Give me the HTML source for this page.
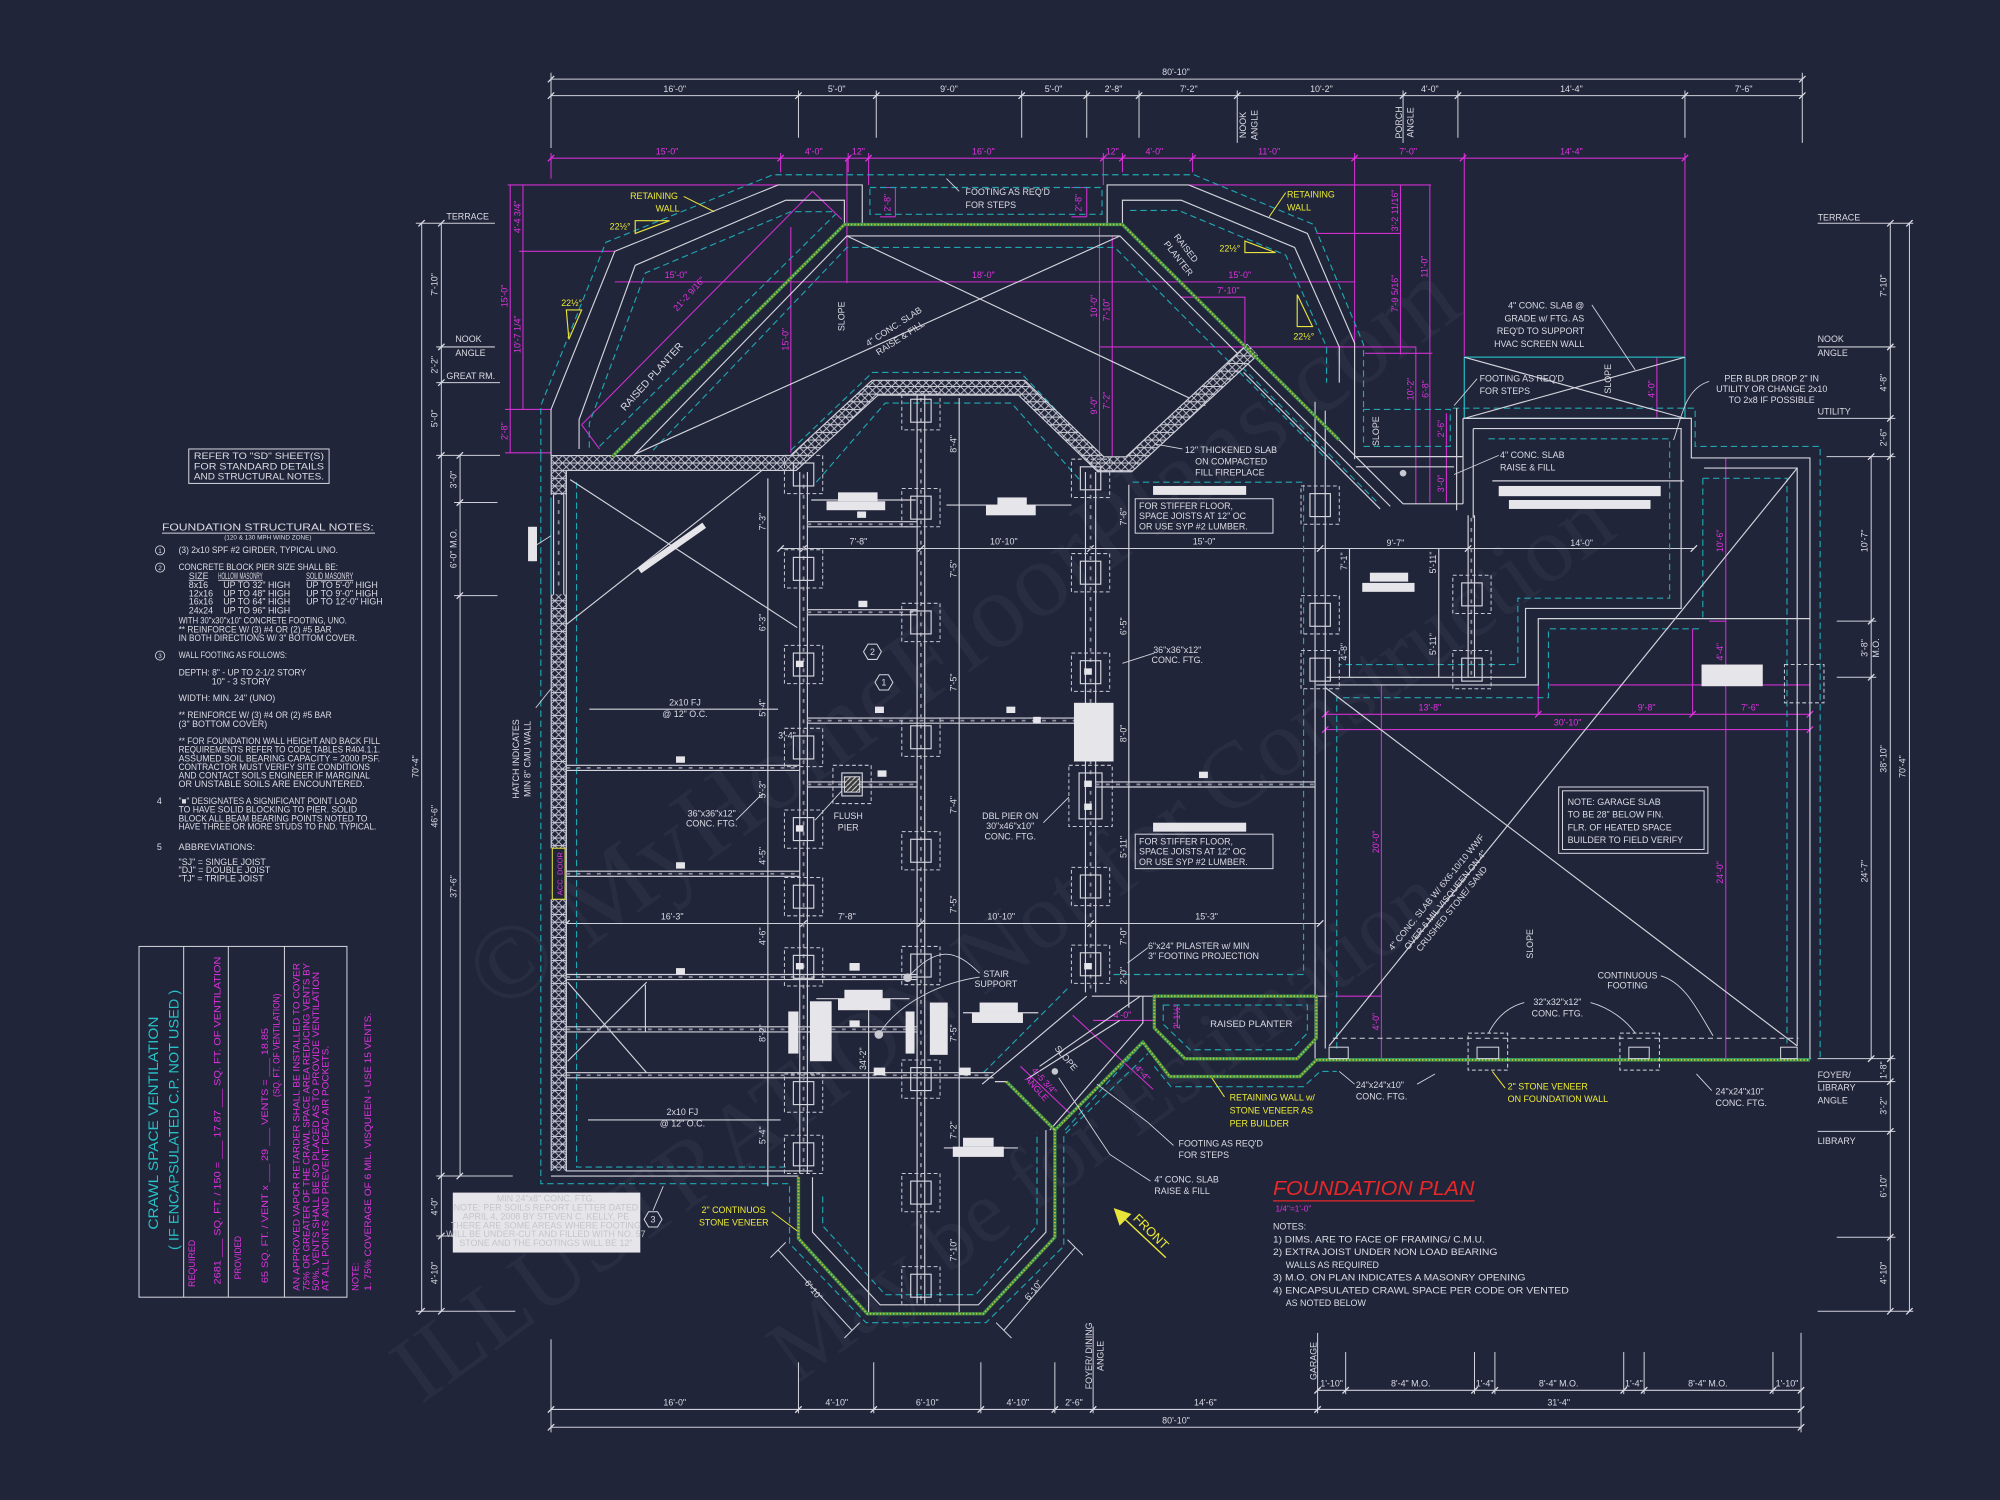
<!DOCTYPE html>
<html><head><meta charset="utf-8">
<style>
html,body{margin:0;padding:0;background:#21253a;}
svg{display:block}
text{font-family:"Liberation Sans Narrow","Liberation Sans",sans-serif;font-size:7px;}
.w{fill:#dcdce4}.m{fill:#e033e0}.y{fill:#ecec34}.c{fill:#27c2c6}.r{fill:#e82828}
.s{font-size:5.6px}.n{font-size:8.2px}
</style></head>
<body>
<svg width="2000" height="1500" viewBox="0 0 1568 1176" xmlns="http://www.w3.org/2000/svg">
<defs>
<pattern id="h" width="6" height="6" patternUnits="userSpaceOnUse"><rect width="6" height="6" fill="#21253a"/><path d="M0,0L6,6M6,0L0,6M0,3H6" stroke="#ceced8" stroke-width="0.7"/></pattern>
<pattern id="hz" width="4" height="4" patternUnits="userSpaceOnUse"><rect width="4" height="4" fill="#3a3a3a"/><path d="M0,4L4,0" stroke="#e0e0e0" stroke-width="0.8"/></pattern>
<g id="p"><rect x="-15" y="-15" width="30" height="30" fill="none" stroke="#c8c8d2" stroke-width="0.8" stroke-dasharray="3 2"/><rect x="-8" y="-9" width="16" height="18" fill="none" stroke="#d6d6de" stroke-width="0.9"/></g>
<g id="hx"><polygon points="-7,0 -3.5,-6 3.5,-6 7,0 3.5,6 -3.5,6" fill="#21253a" stroke="#d6d6de" stroke-width="0.8"/></g>
</defs>
<rect width="1568" height="1176" fill="#21253a"/>

<!-- watermark -->
<g fill="#a6abc4" opacity="0.06">
<text transform="translate(770,520) rotate(-36)" text-anchor="middle" style="font-size:84px;font-family:'Liberation Serif',serif">© MyHomeFloorPlans.com</text>
<text transform="translate(800,760) rotate(-36)" text-anchor="middle" style="font-size:74px;font-family:'Liberation Serif',serif">ILLUSTRATION Not for Construction</text>
<text transform="translate(880,900) rotate(-36)" text-anchor="middle" style="font-size:70px;font-family:'Liberation Serif',serif">May be for Estimation</text>
</g>

<!-- ======== DIMENSION LINES (white) ======== -->
<g stroke="#cfd0d8" stroke-width="0.8" fill="none">
<path d="M432,62H1413M432,75H1413M432,57V116M1413,57V112M626,71V108M687,71V108M801,71V108M852,71V108M893,71V108M970,71V112M1100,71V112M1143,71V108M1321,71V108"/>
<path d="M330.6,175V1028M346,175V1028M360.7,357V922M326,175H388M342,272H388M342,300H392M342,357H392M356,394H390M356,467H390M342,922H402M342,969H360M326,1028H404"/>
<path d="M1467,358V830M1482,175V1028M1497,175V1028M1425,175H1500M1425,272H1486M1425,328H1486M1432,358H1486M1440,487H1471M1440,531H1471M1425,830H1486M1425,848H1486M1425,887H1486M1440,970H1486M1425,1028H1500"/>
<path d="M1033,1090H1412M432,1105H1412M432,1119H1412M432,1050V1123M626,1068V1108M685,1068V1108M769,1068V1108M827,1068V1108M857,1040V1108M1033,1045V1108M1055,1060V1093M1156,1060V1093M1172,1060V1093M1273,1060V1093M1289,1060V1093M1390,1060V1093M1412,1045V1123"/>
<path d="M612,430H1328M444,724H1035"/>
<path d="M610,980L668,1043M604,986L616,974M662,1049L674,1037M787,1043L843,978M781,1037L793,1049M837,972L849,984"/>
</g>
<!-- ticks -->
<path stroke="#dcdce4" stroke-width="1" fill="none" d="M429.5,64.5l5,-5M1410.5,64.5l5,-5M429.5,77.5l5,-5M623.5,77.5l5,-5M684.5,77.5l5,-5M798.5,77.5l5,-5M849.5,77.5l5,-5M890.5,77.5l5,-5M967.5,77.5l5,-5M1097.5,77.5l5,-5M1140.5,77.5l5,-5M1318.5,77.5l5,-5M1410.5,77.5l5,-5
M328,177.5l5,-5M328,1030.5l5,-5M343.5,177.5l5,-5M343.5,274.5l5,-5M343.5,302.5l5,-5M343.5,359.5l5,-5M343.5,924.5l5,-5M343.5,971.5l5,-5M343.5,1030.5l5,-5M358,359.5l5,-5M358,396.5l5,-5M358,469.5l5,-5M358,924.5l5,-5
M1494.5,177.5l5,-5M1494.5,1030.5l5,-5M1479.5,177.5l5,-5M1479.5,274.5l5,-5M1479.5,330.5l5,-5M1479.5,360.5l5,-5M1479.5,832.5l5,-5M1479.5,850.5l5,-5M1479.5,889.5l5,-5M1479.5,972.5l5,-5M1479.5,1030.5l5,-5M1464.5,360.5l5,-5M1464.5,489.5l5,-5M1464.5,533.5l5,-5M1464.5,832.5l5,-5
M1030.5,1092.5l5,-5M1052.5,1092.5l5,-5M1153.5,1092.5l5,-5M1169.5,1092.5l5,-5M1270.5,1092.5l5,-5M1286.5,1092.5l5,-5M1387.5,1092.5l5,-5M1409.5,1092.5l5,-5M429.5,1107.5l5,-5M623.5,1107.5l5,-5M682.5,1107.5l5,-5M766.5,1107.5l5,-5M824.5,1107.5l5,-5M854.5,1107.5l5,-5M1030.5,1107.5l5,-5M1409.5,1107.5l5,-5M429.5,1121.5l5,-5M1409.5,1121.5l5,-5
M609.5,432.5l5,-5M627.5,432.5l5,-5M719.5,432.5l5,-5M852.5,432.5l5,-5M1032.5,432.5l5,-5M1148.5,432.5l5,-5M1325.5,432.5l5,-5M441.5,726.5l5,-5M627.5,726.5l5,-5M719.5,726.5l5,-5M852.5,726.5l5,-5M1032.5,726.5l5,-5"/>

<!-- ======== MAGENTA DIMS ======== -->
<g stroke="#cf2fcf" stroke-width="0.85" fill="none">
<path d="M432,124H1321M432,120V140M612,120V135M665,120V135M681,120V145M865,120V145M880,120V135M935,120V135M1062,120V272M1148,120V279M1321,120V279"/>
<path d="M400,145V355M410,145V321M398,145H612M407,197H482M396,321H432M396,355H432"/>
<path d="M482,221H1062M620,178V355M664,124V222M862,178V360M872,185V360M925,233H976V272M862,272H1110"/>
<path d="M456,333L637,150M456,333L470,352M637,150L660,172"/>
<path d="M932,145H1122M1032,183H1098M1070,277H1123M1098,145V278M1121,145V394M1110,272V395M1134,324V394"/>
<path d="M690,147H702V170M690,170H702M840,147H852V170M840,170H852"/>
<path d="M1299,280V328"/>
<path d="M1083,537V830M1353,359V830M1039,560H1419M1039,572H1419M1206,537V560M1327,493V560M1214,537H1419M1340,487H1353M1047,781H1083"/>
<path d="M857,800H904M923,788V806M841,796L904,854M800,836L839,873"/>
</g>
<path stroke="#e033e0" stroke-width="1" fill="none" d="M429.5,126.5l5,-5M609.5,126.5l5,-5M662.5,126.5l5,-5M678.5,126.5l5,-5M862.5,126.5l5,-5M877.5,126.5l5,-5M932.5,126.5l5,-5M1059.5,126.5l5,-5M1144.5,126.5l5,-5M1318.5,126.5l5,-5M1036.5,562.5l5,-5M1203.5,562.5l5,-5M1324.5,562.5l5,-5M1416.5,562.5l5,-5M1036.5,574.5l5,-5M1416.5,574.5l5,-5"/>

<!-- ======== CYAN DASHED ======== -->
<g stroke="#1fa6b0" stroke-width="0.9" fill="none" stroke-dasharray="5 3">
<path d="M424,357V318L475,190L606,137H936L1030,176L1069,270V321"/>
<path d="M424,357V928H619V975L679,1037H773L834,977V890L900,826"/>
<path d="M682,147H864V168H682Z"/>
<path d="M462,351V332L506,214L620,166H654"/>
<path d="M470,350L655,168"/>
<path d="M512,353L664,194H874L1040,360"/>
<path d="M886,165H924L1008,200L1040,272V300"/>
<path d="M620,353L684,292H800L858,353"/>
<path d="M452,378V915H616M640,378L694,316H793L848,378"/>
<path d="M645,938V961L694,1015H765L813,961V888"/>
<path d="M888,378H1022V764H870"/>
<path d="M1139,320H1329V350H1427V830"/>
<path d="M1069,321H1137V350H1069Z"/>
<path d="M1167,344H1309V469H1190V521H1050"/>
<path d="M1335,375H1401V820M1335,375V485"/>
<path d="M1048,822V547H1214V493H1335"/>
<path d="M912,788H1025V810L1012,823H933L912,803Z"/>
<path d="M968,282L1080,394M771,841L838,774M835,886L896,818M905,836L918,852H1022L1035,840H1048"/>
</g>
<g stroke="#22b4bc" stroke-width="1" fill="none">
<rect x="1148" y="280" width="173" height="48"/>
<path d="M1033,830H1420M432,390V466"/>
</g>

<!-- ======== WHITE STRUCTURE LINES ======== -->
<g stroke="#d4d4dc" stroke-width="0.9" fill="none">
<path d="M432,357V321L482,197L610,145H676V175"/>
<path d="M454,352V329L498,208L616,157H662V176"/>
<path d="M496,358L664,185H878L1090,397"/>
<path d="M868,176V145H932L1025,183L1062,269V360"/>
<path d="M880,176V157H926L1015,194L1050,272V300"/>
<path d="M664,185L945,318M878,185L498,356"/>
<path d="M1050,345L1100,395H1147M975,292L1082,399M1063,358H1147M1063,366H1140M1142,320V400"/>
<path d="M1148,280L1321,328M1148,328L1321,280"/>
<path d="M1147,328V395M1147,328H1326V359H1419V830M1155,336V406M1155,336H1318V477H1196V531H1040M1336,367H1409V820M1032,537H1206V485H1419"/>
<path d="M1031,315V830M1039,322V822M1039,539L1409,820M1042,820L1409,367"/>
<path d="M856,781H1040"/>
<path d="M444,369V918H637M432,922H626"/>
<path d="M637,923V966L690,1023H767L820,966V886"/>
<path d="M852,781L770,850M896,781V802L823,886M780,848H789"/>
<path d="M815,836L894,781M805,846L878,800"/>
<path d="M447,376L625,492M441,492L606,362M445,770L507,841M507,770L445,832M506,772V809"/>
<!-- girders -->
<path d="M627,370V920M633,370V920M719,310V1022M725,310V1022M851,370V778M859,370V778M1151,404V531M1156,404V531"/>
<path d="M602,375V930M681,780V1030M752,312V1030M885,380V790M1058,430V531M1128,430V531"/>
<!-- joists -->
<path d="M633,409H719M633,413H719M633,478H719M633,482H719M633,563H851M633,567H851M444,600H627M444,604H627M633,613H719M633,617H719M859,613H1031M859,617H1031M444,683H627M444,687H627M444,764H719M444,768H719M444,805H719M444,809H719M444,841H779M444,845H779"/>
<path d="M434,388V466M442,388V466"/>
<!-- arrows -->
<path d="M462,556H610M461,878H612M640,783H713M755,794H814M636,392H718M742,396H840M1170,377H1320M740,900H798"/>
</g>
<g stroke="#8e8e9c" stroke-width="1.4" fill="none" stroke-dasharray="3 5">
<path d="M630,372V918M722,312V1020M855,372V776M1153.5,406V529M438,392V462"/>
<path d="M633,411H719M633,480H719M633,565H851M444,602H627M633,615H719M859,615H1031M444,685H627M444,766H719M444,807H719M444,843H779"/>
</g>
<path stroke="#d4d4dc" stroke-width="0.8" fill="none" stroke-dasharray="4 3" d="M1045,814H1410"/>

<!-- ======== HATCHED CMU WALL ======== -->
<g fill="none" stroke-linejoin="miter">
<path d="M438,918V705M438,665V466M438,388V363H622L686,304H801L863,364H885L982,274" stroke="#cfd0d8" stroke-width="12.6"/>
<path d="M438,918V705M438,665V466M438,388V363H622L686,304H801L863,364H885L982,274" stroke="url(#h)" stroke-width="10.8"/>
</g>
<!-- yellow/green stone veneer hatch -->
<g fill="none" stroke-linejoin="miter">
<path d="M480,358L662,176H880L1050,345M626,923V971L680,1030H771L827,970V886L896,817L917,844H1019L1032,831H1419M789,848L827,886M905,781H1032V814L1017,830H929L905,806Z" stroke="#3c8f48" stroke-width="2.6"/>
<path d="M480,358L662,176H880L1050,345M626,923V971L680,1030H771L827,970V886L896,817L917,844H1019L1032,831H1419M789,848L827,886M905,781H1032V814L1017,830H929L905,806Z" stroke="#c9c83a" stroke-width="1.4" stroke-dasharray="1 1.6"/>
</g>

<!-- ======== PIERS ======== -->
<g>
<use href="#p" x="630" y="372"/><use href="#p" x="630" y="446"/><use href="#p" x="630" y="521"/><use href="#p" x="630" y="586"/><use href="#p" x="630" y="650"/><use href="#p" x="630" y="703"/><use href="#p" x="630" y="758"/><use href="#p" x="630" y="857"/><use href="#p" x="630" y="905"/>
<use href="#p" x="722" y="322"/><use href="#p" x="722" y="398"/><use href="#p" x="722" y="488"/><use href="#p" x="722" y="578"/><use href="#p" x="722" y="667"/><use href="#p" x="722" y="757"/><use href="#p" x="722" y="846"/><use href="#p" x="722" y="935"/><use href="#p" x="722" y="1008"/>
<use href="#p" x="855" y="375"/><use href="#p" x="855" y="449"/><use href="#p" x="855" y="527"/><use href="#p" x="855" y="695"/><use href="#p" x="855" y="756"/>
<use href="#p" x="1035" y="396"/><use href="#p" x="1035" y="482"/><use href="#p" x="1154" y="466"/><use href="#p" x="1035" y="525"/><use href="#p" x="1154" y="525"/><use href="#p" x="668" y="615"/>
</g>
<rect x="838" y="600" width="34" height="48" fill="none" stroke="#c8c8d2" stroke-width="0.8" stroke-dasharray="3 2"/>
<rect x="846" y="606" width="18" height="36" fill="none" stroke="#d6d6de" stroke-width="0.9"/>
<rect x="662" y="609" width="12" height="12" fill="url(#hz)" stroke="#d6d6de" stroke-width="0.8"/>
<rect x="1399" y="521" width="31" height="30" fill="none" stroke="#c8c8d2" stroke-width="0.8" stroke-dasharray="3 2"/>
<g fill="none" stroke="#d6d6de" stroke-width="0.8">
<rect x="1151" y="810" width="31" height="29" stroke-dasharray="3 2"/><rect x="1158" y="821" width="17" height="9"/>
<rect x="1270" y="810" width="31" height="29" stroke-dasharray="3 2"/><rect x="1277" y="821" width="16" height="9"/>
<rect x="1042" y="821" width="15" height="9"/><rect x="1396" y="821" width="13" height="9"/>
</g>

<!-- ======== WHITE LABEL BOXES ======== -->
<g fill="#e6e6ea">
<rect x="657" y="386" width="31" height="7"/><rect x="648" y="393" width="46" height="7"/>
<rect x="782" y="390" width="23" height="6"/><rect x="773" y="396" width="39" height="8"/>
<rect x="904" y="381" width="73" height="7"/><rect x="904" y="645" width="73" height="7"/>
<rect x="842" y="551" width="31" height="46"/>
<rect x="496" y="427" width="62" height="5" transform="rotate(-35 527 430)"/>
<rect x="1175" y="381" width="127" height="8"/><rect x="1183" y="392" width="111" height="7"/>
<rect x="1074" y="449" width="30" height="7"/><rect x="1068" y="457" width="41" height="7"/>
<rect x="1334" y="521" width="48" height="17"/>
<rect x="414" y="413" width="7" height="27"/>
<rect x="662" y="776" width="30" height="7"/><rect x="657" y="783" width="41" height="9"/>
<rect x="618" y="793" width="8" height="33"/><rect x="635" y="785" width="17" height="47"/>
<rect x="710" y="793" width="7" height="33"/><rect x="729" y="786" width="14" height="41"/>
<rect x="768" y="786" width="30" height="8"/><rect x="762" y="794" width="40" height="8"/>
<rect x="755" y="892" width="24" height="7"/><rect x="747" y="899" width="40" height="8"/>
<rect x="355" y="935" width="147" height="47"/>
<!-- small squares -->
<rect x="672" y="401" width="7" height="5"/><rect x="673" y="471" width="7" height="5"/><rect x="624" y="518" width="6" height="5"/>
<rect x="686" y="554" width="7" height="5"/><rect x="789" y="554" width="7" height="5"/><rect x="810" y="562" width="6" height="5"/>
<rect x="530" y="593" width="7" height="5"/><rect x="688" y="604" width="7" height="5"/><rect x="940" y="605" width="7" height="5"/>
<rect x="624" y="647" width="6" height="5"/><rect x="850" y="524" width="6" height="5"/><rect x="850" y="612" width="6" height="5"/><rect x="850" y="630" width="6" height="5"/>
<rect x="530" y="676" width="7" height="5"/><rect x="624" y="755" width="6" height="5"/><rect x="666" y="755" width="8" height="6"/><rect x="530" y="759" width="7" height="5"/>
<rect x="666" y="800" width="8" height="5"/><rect x="685" y="837" width="9" height="6"/><rect x="752" y="837" width="9" height="6"/><rect x="850" y="755" width="6" height="5"/>
</g>
<g fill="#c4c4cc" style="font-size:4.6px" text-anchor="middle">
<text x="428" y="942">MIN 24&quot;x8&quot; CONC. FTG.</text>
<text x="428" y="949">NOTE: PER SOILS REPORT LETTER DATED</text>
<text x="428" y="956">APRIL 4, 2008 BY STEVEN C. KELLY, PE</text>
<text x="428" y="963">THERE ARE SOME AREAS WHERE FOOTING</text>
<text x="428" y="970">WILL BE UNDER-CUT AND FILLED WITH NO. 57</text>
<text x="428" y="977">STONE AND THE FOOTINGS WILL BE 12&quot;</text>
</g>
<circle cx="711.6" cy="766.5" r="3.4" fill="#c8c8d0"/><circle cx="689" cy="811" r="3.4" fill="#c8c8d0"/>
<circle cx="827" cy="840" r="2.6" fill="#c8c8d0"/><circle cx="1100" cy="371" r="2.6" fill="#c8c8d0"/>

<!-- leaders -->
<g stroke="#d4d4dc" stroke-width="0.7" fill="none">
<path d="M768,763C750,745 735,740 711.6,766.5M768,766C740,770 705,785 689,811"/>
<path d="M742,140L752,150M927,352L905,348M1248,239L1282,290M1158,297L1140,318M1340,299C1320,305 1318,330 1312,345M1175,357L1140,372"/>
<path d="M1302,765C1320,770 1330,790 1343,812M1195,786C1180,790 1172,800 1167,810M1247,786C1262,790 1275,800 1282,810"/>
<path d="M1111,850L1125,842M1342,855L1330,842M1062,850L1050,840"/>
<path d="M920,898L900,880L860,850M902,926L870,905L830,845"/>
<path d="M420,555L432,540M421,427L432,420M512,949L520,930M577,643L598,622M639,643L660,620M818,645L838,625M905,512L880,520M900,743L884,755"/>
</g>
<g stroke="#e8e43a" stroke-width="0.8" fill="none">
<path d="M536,154L560,166M1008,151L995,170M605,950L625,965M960,860L950,845M1180,853L1170,840"/>
</g>

<!-- yellow angle triangles -->
<g stroke="#e8e43a" stroke-width="0.9" fill="none">
<polygon points="498,183 525,173 498,173"/>
<polygon points="444,243 456,243 446,266"/>
<polygon points="976,189 1000,198 976,198"/>
<polygon points="1017,231 1017,256 1029,256"/>
</g>
<!-- front arrow -->
<g stroke="#e8e43a" stroke-width="1.1" fill="#e8e43a">
<path d="M914,986L880,954" fill="none"/><polygon points="874,948 886,952 878,960"/>
</g>
<!-- acc door -->
<rect x="433" y="665" width="10" height="40" fill="#21253a" stroke="#e8e43a" stroke-width="0.8"/>
<text transform="translate(441,685) rotate(-90)" text-anchor="middle" class="m" style="font-size:6px">ACC. DOOR</text>

<!-- hex tags -->
<use href="#hx" x="684" y="511"/><use href="#hx" x="693" y="535"/><use href="#hx" x="512" y="956"/>
<g class="w" text-anchor="middle" style="font-size:6.5px"><text x="684" y="513.5">2</text><text x="693" y="537.5">1</text><text x="512" y="958.5">3</text></g>

<!-- boxes -->
<g fill="none" stroke="#d4d4dc" stroke-width="0.8">
<rect x="148" y="352" width="110" height="27"/>
<rect x="890" y="391" width="108" height="27"/>
<rect x="890" y="654" width="108" height="27"/>
<rect x="1222" y="617" width="117" height="52"/><rect x="1225" y="620" width="111" height="46"/>
<rect x="109" y="742" width="163" height="275"/>
<path d="M144,742V1017M179,742V1017M223,742V1017"/>
<path d="M127,418H294"/>
<path d="M998,941.5H1156" stroke="#e82828" stroke-width="1"/>
</g>

<!-- ======== TEXT: WHITE ======== -->
<g class="w" text-anchor="middle" style="font-size:7.5px">
<text x="922" y="59">80'-10&quot;</text>
<text x="529" y="72">16'-0&quot;</text><text x="656" y="72">5'-0&quot;</text><text x="744" y="72">9'-0&quot;</text><text x="826" y="72">5'-0&quot;</text><text x="873" y="72">2'-8&quot;</text><text x="932" y="72">7'-2&quot;</text><text x="1036" y="72">10'-2&quot;</text><text x="1121" y="72">4'-0&quot;</text><text x="1232" y="72">14'-4&quot;</text><text x="1367" y="72">7'-6&quot;</text>
<text x="529" y="1102">16'-0&quot;</text><text x="656" y="1102">4'-10&quot;</text><text x="727" y="1102">6'-10&quot;</text><text x="798" y="1102">4'-10&quot;</text><text x="842" y="1102">2'-6&quot;</text><text x="945" y="1102">14'-6&quot;</text><text x="1222" y="1102">31'-4&quot;</text>
<text x="922" y="1116">80'-10&quot;</text>
<text x="1044" y="1087">1'-10&quot;</text><text x="1106" y="1087">8'-4&quot; M.O.</text><text x="1164" y="1087">1'-4&quot;</text><text x="1222" y="1087">8'-4&quot; M.O.</text><text x="1281" y="1087">1'-4&quot;</text><text x="1339" y="1087">8'-4&quot; M.O.</text><text x="1401" y="1087">1'-10&quot;</text>
<text x="673" y="427">7'-8&quot;</text><text x="787" y="427">10'-10&quot;</text><text x="944" y="427">15'-0&quot;</text><text x="1094" y="428">9'-7&quot;</text><text x="1240" y="428">14'-0&quot;</text>
<text x="527" y="721">16'-3&quot;</text><text x="664" y="721">7'-8&quot;</text><text x="785" y="721">10'-10&quot;</text><text x="946" y="721">15'-3&quot;</text>
<text x="617" y="579">3'-4&quot;</text>
</g>
<!-- rotated white dims -->
<g class="w" text-anchor="middle" style="font-size:7.5px">
<text transform="translate(343,223) rotate(-90)">7'-10&quot;</text>
<text transform="translate(343,286) rotate(-90)">2'-2&quot;</text>
<text transform="translate(343,328) rotate(-90)">5'-0&quot;</text>
<text transform="translate(358,376) rotate(-90)">3'-0&quot;</text>
<text transform="translate(358,430) rotate(-90)">6'-0&quot; M.O.</text>
<text transform="translate(328,601) rotate(-90)">70'-4&quot;</text>
<text transform="translate(343,640) rotate(-90)">46'-6&quot;</text>
<text transform="translate(358,695) rotate(-90)">37'-6&quot;</text>
<text transform="translate(343,946) rotate(-90)">4'-0&quot;</text>
<text transform="translate(343,998) rotate(-90)">4'-10&quot;</text>
<text transform="translate(1479,224) rotate(-90)">7'-10&quot;</text>
<text transform="translate(1479,300) rotate(-90)">4'-8&quot;</text>
<text transform="translate(1479,343) rotate(-90)">2'-6&quot;</text>
<text transform="translate(1464,424) rotate(-90)">10'-7&quot;</text>
<text transform="translate(1464,508) rotate(-90)">3'-8&quot;</text>
<text transform="translate(1473,508) rotate(-90)">M.O.</text>
<text transform="translate(1479,595) rotate(-90)">38'-10&quot;</text>
<text transform="translate(1494,601) rotate(-90)">70'-4&quot;</text>
<text transform="translate(1464,683) rotate(-90)">24'-7&quot;</text>
<text transform="translate(1479,839) rotate(-90)">1'-8&quot;</text>
<text transform="translate(1479,867) rotate(-90)">3'-2&quot;</text>
<text transform="translate(1479,930) rotate(-90)">6'-10&quot;</text>
<text transform="translate(1479,998) rotate(-90)">4'-10&quot;</text>
<text transform="translate(600,409) rotate(-90)">7'-3&quot;</text>
<text transform="translate(600,488) rotate(-90)">6'-3&quot;</text>
<text transform="translate(600,555) rotate(-90)">5'-4&quot;</text>
<text transform="translate(600,619) rotate(-90)">5'-3&quot;</text>
<text transform="translate(600,671) rotate(-90)">4'-5&quot;</text>
<text transform="translate(600,734) rotate(-90)">4'-6&quot;</text>
<text transform="translate(600,810) rotate(-90)">8'-2&quot;</text>
<text transform="translate(600,890) rotate(-90)">5'-4&quot;</text>
<text transform="translate(750,348) rotate(-90)">8'-4&quot;</text>
<text transform="translate(750,446) rotate(-90)">7'-5&quot;</text>
<text transform="translate(750,535) rotate(-90)">7'-5&quot;</text>
<text transform="translate(750,631) rotate(-90)">7'-4&quot;</text>
<text transform="translate(750,709) rotate(-90)">7'-5&quot;</text>
<text transform="translate(750,810) rotate(-90)">7'-5&quot;</text>
<text transform="translate(750,886) rotate(-90)">7'-2&quot;</text>
<text transform="translate(750,980) rotate(-90)">7'-10&quot;</text>
<text transform="translate(679,830) rotate(-90)">34'-2&quot;</text>
<text transform="translate(883,405) rotate(-90)">7'-6&quot;</text>
<text transform="translate(883,491) rotate(-90)">6'-5&quot;</text>
<text transform="translate(883,575) rotate(-90)">8'-0&quot;</text>
<text transform="translate(883,664) rotate(-90)">5'-11&quot;</text>
<text transform="translate(883,734) rotate(-90)">7'-0&quot;</text>
<text transform="translate(883,765) rotate(-90)">2'-0&quot;</text>
<text transform="translate(1056,440) rotate(-90)">7'-1&quot;</text>
<text transform="translate(1126,441) rotate(-90)">5'-11&quot;</text>
<text transform="translate(1126,505) rotate(-90)">5'-11&quot;</text>
<text transform="translate(1056,511) rotate(-90)">4'-8&quot;</text>
<text transform="translate(636,1013) rotate(52)">6'-10&quot;</text>
<text transform="translate(812,1013) rotate(-52)">6'-10&quot;</text>
</g>
<!-- white labels -->
<g class="w" style="font-size:7px">
<text x="350" y="172">TERRACE</text>
<text x="357" y="268">NOOK</text><text x="357" y="279">ANGLE</text>
<text x="350" y="297">GREAT RM.</text>
<text x="1425" y="173">TERRACE</text>
<text x="1425" y="268">NOOK</text><text x="1425" y="279">ANGLE</text>
<text x="1425" y="325">UTILITY</text>
<text x="1425" y="845">FOYER/</text><text x="1425" y="855">LIBRARY</text><text x="1425" y="865">ANGLE</text>
<text x="1425" y="897">LIBRARY</text>
<text transform="translate(977,98) rotate(-90)" text-anchor="middle">NOOK</text>
<text transform="translate(986,98) rotate(-90)" text-anchor="middle">ANGLE</text>
<text transform="translate(1099,96) rotate(-90)" text-anchor="middle">PORCH</text>
<text transform="translate(1108,96) rotate(-90)" text-anchor="middle">ANGLE</text>
<text transform="translate(856,1063) rotate(-90)" text-anchor="middle">FOYER/ DINING</text>
<text transform="translate(865,1063) rotate(-90)" text-anchor="middle">ANGLE</text>
<text transform="translate(1032,1067) rotate(-90)" text-anchor="middle">GARAGE</text>
<text x="757" y="153">FOOTING AS REQ'D</text><text x="757" y="163">FOR STEPS</text>
<text transform="translate(513,297) rotate(-48)" text-anchor="middle" style="font-size:8px">RAISED PLANTER</text>
<text transform="translate(928,196) rotate(52)" text-anchor="middle" style="font-size:7px">RAISED</text>
<text transform="translate(922,204) rotate(52)" text-anchor="middle" style="font-size:7px">PLANTER</text>
<text transform="translate(702,258) rotate(-33)" text-anchor="middle">4&quot; CONC. SLAB</text>
<text transform="translate(707,267) rotate(-33)" text-anchor="middle">RAISE &amp; FILL</text>
<text transform="translate(662,248) rotate(-90)" text-anchor="middle">SLOPE</text>
<text transform="translate(1081,338) rotate(-90)" text-anchor="middle">SLOPE</text>
<text transform="translate(1263,297) rotate(-90)" text-anchor="middle">SLOPE</text>
<text transform="translate(1202,740) rotate(-90)" text-anchor="middle">SLOPE</text>
<text transform="translate(834,831) rotate(50)" text-anchor="middle">SLOPE</text>
<text x="1242" y="242" text-anchor="end">4&quot; CONC. SLAB @</text>
<text x="1242" y="252" text-anchor="end">GRADE w/ FTG. AS</text>
<text x="1242" y="262" text-anchor="end">REQ'D TO SUPPORT</text>
<text x="1242" y="272" text-anchor="end">HVAC SCREEN WALL</text>
<text x="1160" y="299">FOOTING AS REQ'D</text><text x="1160" y="309">FOR STEPS</text>
<text x="1389" y="299" text-anchor="middle">PER BLDR DROP 2&quot; IN</text>
<text x="1389" y="307.5" text-anchor="middle">UTILITY OR CHANGE 2x10</text>
<text x="1389" y="316" text-anchor="middle">TO 2x8 IF POSSIBLE</text>
<text x="1176" y="359">4&quot; CONC. SLAB</text><text x="1176" y="369">RAISE &amp; FILL</text>
<text x="929" y="355">12&quot; THICKENED SLAB</text><text x="937" y="364">ON COMPACTED</text><text x="937" y="373">FILL FIREPLACE</text>
<text x="893" y="399">FOR STIFFER FLOOR,</text><text x="893" y="407">SPACE JOISTS AT 12&quot; OC</text><text x="893" y="415">OR USE SYP #2 LUMBER.</text>
<text x="893" y="662">FOR STIFFER FLOOR,</text><text x="893" y="670">SPACE JOISTS AT 12&quot; OC</text><text x="893" y="678">OR USE SYP #2 LUMBER.</text>
<text x="923" y="512" text-anchor="middle">36&quot;x36&quot;x12&quot;</text><text x="923" y="520" text-anchor="middle">CONC. FTG.</text>
<text x="537" y="553" text-anchor="middle">2x10 FJ</text><text x="537" y="562" text-anchor="middle">@ 12&quot; O.C.</text>
<text x="535" y="874" text-anchor="middle">2x10 FJ</text><text x="535" y="883" text-anchor="middle">@ 12&quot; O.C.</text>
<text x="558" y="640" text-anchor="middle">36&quot;x36&quot;x12&quot;</text><text x="558" y="648" text-anchor="middle">CONC. FTG.</text>
<text x="665" y="642" text-anchor="middle">FLUSH</text><text x="665" y="651" text-anchor="middle">PIER</text>
<text x="792" y="642" text-anchor="middle">DBL PIER ON</text><text x="792" y="650" text-anchor="middle">30&quot;x46&quot;x10&quot;</text><text x="792" y="658" text-anchor="middle">CONC. FTG.</text>
<text x="900" y="744">6&quot;x24&quot; PILASTER w/ MIN</text><text x="900" y="752">3&quot; FOOTING PROJECTION</text>
<text x="771" y="766">STAIR</text><text x="764" y="774">SUPPORT</text>
<text transform="translate(407,595) rotate(-90)" text-anchor="middle">HATCH INDICATES</text>
<text transform="translate(416,595) rotate(-90)" text-anchor="middle">MIN 8&quot; CMU WALL</text>
<text x="1229" y="631">NOTE: GARAGE SLAB</text><text x="1229" y="641">TO BE 28&quot; BELOW FIN.</text><text x="1229" y="651">FLR. OF HEATED SPACE</text><text x="1229" y="661">BUILDER TO FIELD VERIFY</text>
<text transform="translate(1128,701) rotate(-51)" text-anchor="middle">4&quot; CONC. SLAB W/ 6X6-10/10 WWF</text>
<text transform="translate(1135,707) rotate(-51)" text-anchor="middle">OVER 6 MIL VISQUEEN ON 4&quot;</text>
<text transform="translate(1140,714) rotate(-51)" text-anchor="middle">CRUSHED STONE/ SAND</text>
<text x="1276" y="767" text-anchor="middle">CONTINUOUS</text><text x="1276" y="775" text-anchor="middle">FOOTING</text>
<text x="1221" y="788" text-anchor="middle">32&quot;x32&quot;x12&quot;</text><text x="1221" y="797" text-anchor="middle">CONC. FTG.</text>
<text x="1063" y="853">24&quot;x24&quot;x10&quot;</text><text x="1063" y="862">CONC. FTG.</text>
<text x="1345" y="858">24&quot;x24&quot;x10&quot;</text><text x="1345" y="867">CONC. FTG.</text>
<text x="981" y="805" text-anchor="middle" style="font-size:7.5px">RAISED PLANTER</text>
<text x="924" y="899">FOOTING AS REQ'D</text><text x="924" y="908">FOR STEPS</text>
<text x="905" y="927">4&quot; CONC. SLAB</text><text x="905" y="936">RAISE &amp; FILL</text>
</g>

<!-- ======== MAGENTA TEXT ======== -->
<g class="m" text-anchor="middle" style="font-size:7.5px">
<text x="523" y="121">15'-0&quot;</text><text x="638" y="121">4'-0&quot;</text><text x="673" y="121">12&quot;</text><text x="771" y="121">16'-0&quot;</text><text x="872" y="121">12&quot;</text><text x="905" y="121">4'-0&quot;</text><text x="995" y="121">11'-0&quot;</text><text x="1104" y="121">7'-0&quot;</text><text x="1232" y="121">14'-4&quot;</text>
<text x="530" y="218">15'-0&quot;</text><text x="771" y="218">18'-0&quot;</text><text x="972" y="218">15'-0&quot;</text><text x="963" y="230">7'-10&quot;</text>
<text x="1121" y="557">13'-8&quot;</text><text x="1291" y="557">9'-8&quot;</text><text x="1372" y="557">7'-6&quot;</text><text x="1229" y="569">30'-10&quot;</text>
<text x="880" y="798">4'-0&quot;</text>
<text transform="translate(408,170) rotate(-90)">4'-4 3/4&quot;</text>
<text transform="translate(398,232) rotate(-90)">15'-0&quot;</text>
<text transform="translate(408,262) rotate(-90)">10'-7 1/4&quot;</text>
<text transform="translate(398,338) rotate(-90)">2'-8&quot;</text>
<text transform="translate(618,266) rotate(-90)">15'-0&quot;</text>
<text transform="translate(860,240) rotate(-90)">10'-0&quot;</text>
<text transform="translate(860,318) rotate(-90)">9'-0&quot;</text>
<text transform="translate(870,243) rotate(-90)">7'-10&quot;</text>
<text transform="translate(870,314) rotate(-90)">7'-2&quot;</text>
<text transform="translate(698,159) rotate(-90)">2'-8&quot;</text>
<text transform="translate(848,159) rotate(-90)">2'-8&quot;</text>
<text transform="translate(1096,165) rotate(-90)">3'-2 11/16&quot;</text>
<text transform="translate(1096,230) rotate(-90)">7'-9 5/16&quot;</text>
<text transform="translate(1119,209) rotate(-90)">11'-0&quot;</text>
<text transform="translate(1108,305) rotate(-90)">10'-2&quot;</text>
<text transform="translate(1120,305) rotate(-90)">6'-8&quot;</text>
<text transform="translate(1132,336) rotate(-90)">2'-6&quot;</text>
<text transform="translate(1132,379) rotate(-90)">3'-0&quot;</text>
<text transform="translate(1297,305) rotate(-90)">4'-0&quot;</text>
<text transform="translate(1351,424) rotate(-90)">10'-6&quot;</text>
<text transform="translate(1351,511) rotate(-90)">4'-4&quot;</text>
<text transform="translate(1351,684) rotate(-90)">24'-0&quot;</text>
<text transform="translate(1081,660) rotate(-90)">20'-0&quot;</text>
<text transform="translate(1081,801) rotate(-90)">4'-0&quot;</text>
<text transform="translate(925,797) rotate(-90)">2'-1½&quot;</text>
<text transform="translate(542,232) rotate(-48)">21'-2 9/16&quot;</text>
<text transform="translate(894,843) rotate(48)">4'-4&quot;</text>
<text transform="translate(817,849) rotate(48)">4'-5 3/4&quot;</text>
<text transform="translate(811,855) rotate(48)">ANGLE</text>
</g>

<!-- ======== YELLOW TEXT ======== -->
<g class="y" style="font-size:7.5px">
<text x="494" y="156">RETAINING</text><text x="514" y="166">WALL</text>
<text x="1009" y="155">RETAINING</text><text x="1009" y="165">WALL</text>
<text x="478" y="180" style="font-size:7px">22½°</text>
<text x="440" y="240" style="font-size:7px">22½°</text>
<text x="956" y="197" style="font-size:7px">22½°</text>
<text x="1014" y="266" style="font-size:7px">22½°</text>
<text x="964" y="863">RETAINING WALL w/</text><text x="964" y="873">STONE VENEER AS</text><text x="964" y="883">PER BUILDER</text>
<text x="1182" y="854">2&quot; STONE VENEER</text><text x="1182" y="864">ON FOUNDATION WALL</text>
<text x="550" y="951">2&quot; CONTINUOS</text><text x="548" y="961">STONE VENEER</text>
<text transform="translate(900,968) rotate(45)" text-anchor="middle" style="font-size:10px">FRONT</text>
</g>

<!-- ======== TITLE / NOTES ======== -->
<text x="998" y="937" class="r" style="font-size:16px;font-style:italic" textLength="158" lengthAdjust="spacingAndGlyphs">FOUNDATION PLAN</text>
<text x="1000" y="950" class="m" style="font-size:6.5px">1/4&quot;=1'-0&quot;</text>
<g class="w" style="font-size:8px">
<text x="998" y="964">NOTES:</text>
<text x="998" y="974" textLength="166" lengthAdjust="spacingAndGlyphs">1)  DIMS. ARE TO FACE OF FRAMING/ C.M.U.</text>
<text x="998" y="984" textLength="176" lengthAdjust="spacingAndGlyphs">2) EXTRA JOIST UNDER NON LOAD BEARING</text>
<text x="1008" y="994">WALLS AS REQUIRED</text>
<text x="998" y="1004" textLength="198" lengthAdjust="spacingAndGlyphs">3) M.O. ON PLAN INDICATES A MASONRY OPENING</text>
<text x="998" y="1014" textLength="232" lengthAdjust="spacingAndGlyphs">4) ENCAPSULATED CRAWL SPACE PER CODE OR VENTED</text>
<text x="1008" y="1024">AS NOTED BELOW</text>
</g>

<!-- left structural notes -->
<g class="w" style="font-size:6.2px">
<text x="152" y="360" textLength="102" lengthAdjust="spacingAndGlyphs">REFER TO &quot;SD&quot; SHEET(S)</text>
<text x="152" y="368" textLength="102" lengthAdjust="spacingAndGlyphs">FOR STANDARD DETAILS</text>
<text x="152" y="376" textLength="102" lengthAdjust="spacingAndGlyphs">AND STRUCTURAL NOTES.</text>
<text x="127" y="416" style="font-size:8px" textLength="166" lengthAdjust="spacingAndGlyphs">FOUNDATION STRUCTURAL NOTES:</text>
<text x="210" y="423" text-anchor="middle" style="font-size:5px">(120 &amp; 130 MPH WIND ZONE)</text>
</g>
<g fill="none" stroke="#d4d4dc" stroke-width="0.7"><circle cx="125.5" cy="431.5" r="3.6"/><circle cx="125.5" cy="445" r="3.6"/><circle cx="125.5" cy="514" r="3.6"/><path d="M148,455H160M171,455H206M240,455H277"/></g>
<g class="w s">
<text x="125.5" y="433.5" text-anchor="middle" style="font-size:5px">1</text>
<text x="125.5" y="447" text-anchor="middle" style="font-size:5px">2</text>
<text x="125.5" y="516" text-anchor="middle" style="font-size:5px">3</text>
<text x="140" y="433.5" textLength="125" lengthAdjust="spacingAndGlyphs">(3) 2x10 SPF #2 GIRDER, TYPICAL UNO.</text>
<text x="140" y="447" textLength="125" lengthAdjust="spacingAndGlyphs">CONCRETE BLOCK PIER SIZE SHALL BE:</text>
<text x="148" y="454">SIZE</text><text x="171" y="454" textLength="35" lengthAdjust="spacingAndGlyphs">HOLLOW MASONRY</text><text x="240" y="454" textLength="37" lengthAdjust="spacingAndGlyphs">SOLID MASONRY</text>
<text x="148" y="461">8x16</text><text x="175" y="461">UP TO 32&quot; HIGH</text><text x="240" y="461">UP TO 5'-0&quot; HIGH</text>
<text x="148" y="467.5">12x16</text><text x="175" y="467.5">UP TO 48&quot; HIGH</text><text x="240" y="467.5">UP TO 9'-0&quot; HIGH</text>
<text x="148" y="474">16x16</text><text x="175" y="474">UP TO 64&quot; HIGH</text><text x="240" y="474">UP TO 12'-0&quot; HIGH</text>
<text x="148" y="481">24x24</text><text x="175" y="481">UP TO 96&quot; HIGH</text>
<text x="140" y="489" textLength="132" lengthAdjust="spacingAndGlyphs">WITH 30&quot;x30&quot;x10&quot; CONCRETE FOOTING, UNO.</text>
<text x="140" y="496" textLength="120" lengthAdjust="spacingAndGlyphs">** REINFORCE W/ (3) #4 OR (2) #5 BAR</text>
<text x="140" y="502.5" textLength="140" lengthAdjust="spacingAndGlyphs">IN BOTH DIRECTIONS W/ 3&quot; BOTTOM COVER.</text>
<text x="140" y="516" textLength="85" lengthAdjust="spacingAndGlyphs">WALL FOOTING AS FOLLOWS:</text>
<text x="140" y="529.5" textLength="100" lengthAdjust="spacingAndGlyphs">DEPTH: 8&quot; - UP TO 2-1/2 STORY</text>
<text x="166" y="536.5">10&quot; - 3 STORY</text>
<text x="140" y="549.5">WIDTH:  MIN. 24&quot; (UNO)</text>
<text x="140" y="563" textLength="120" lengthAdjust="spacingAndGlyphs">** REINFORCE W/ (3) #4 OR (2) #5 BAR</text>
<text x="140" y="570">(3&quot; BOTTOM COVER)</text>
<text x="140" y="583.5" textLength="158" lengthAdjust="spacingAndGlyphs">** FOR FOUNDATION WALL HEIGHT AND BACK FILL</text>
<text x="140" y="590" textLength="158" lengthAdjust="spacingAndGlyphs">REQUIREMENTS REFER TO CODE TABLES R404.1.1.</text>
<text x="140" y="597" textLength="158" lengthAdjust="spacingAndGlyphs">ASSUMED SOIL BEARING CAPACITY = 2000 PSF.</text>
<text x="140" y="603.5" textLength="150" lengthAdjust="spacingAndGlyphs">CONTRACTOR MUST VERIFY SITE CONDITIONS</text>
<text x="140" y="610.5" textLength="150" lengthAdjust="spacingAndGlyphs">AND CONTACT SOILS ENGINEER IF MARGINAL</text>
<text x="140" y="617" textLength="146" lengthAdjust="spacingAndGlyphs">OR UNSTABLE SOILS ARE ENCOUNTERED.</text>
<text x="123" y="630.5">4</text>
<text x="140" y="630.5" textLength="140" lengthAdjust="spacingAndGlyphs">&quot;■&quot; DESIGNATES A SIGNIFICANT POINT LOAD</text>
<text x="140" y="637" textLength="140" lengthAdjust="spacingAndGlyphs">TO HAVE SOLID BLOCKING TO PIER. SOLID</text>
<text x="140" y="644" textLength="148" lengthAdjust="spacingAndGlyphs">BLOCK ALL BEAM BEARING POINTS NOTED TO</text>
<text x="140" y="650.5" textLength="155" lengthAdjust="spacingAndGlyphs">HAVE THREE OR MORE STUDS TO FND. TYPICAL.</text>
<text x="123" y="666.5">5</text>
<text x="140" y="666.5" textLength="60" lengthAdjust="spacingAndGlyphs">ABBREVIATIONS:</text>
<text x="140" y="678">&quot;SJ&quot; = SINGLE JOIST</text>
<text x="140" y="684.5">&quot;DJ&quot; = DOUBLE JOIST</text>
<text x="140" y="691">&quot;TJ&quot; = TRIPLE JOIST</text>
</g>

<!-- crawl space box -->
<text transform="translate(124,964) rotate(-90)" class="c" style="font-size:11px" textLength="167" lengthAdjust="spacingAndGlyphs">CRAWL SPACE VENTILATION</text>
<text transform="translate(140,980) rotate(-90)" class="c" style="font-size:11px" textLength="204" lengthAdjust="spacingAndGlyphs">( IF ENCAPSULATED C.P. NOT USED )</text>
<g class="m" style="font-size:7px">
<text transform="translate(153,1009) rotate(-90)" textLength="37" lengthAdjust="spacingAndGlyphs">REQUIRED</text>
<text transform="translate(173,1007) rotate(-90)" textLength="257" lengthAdjust="spacingAndGlyphs">2681 ___ SQ. FT. / 150 = ___ 17.87 ___ SQ. FT. OF VENTILATION</text>
<text transform="translate(189,1003) rotate(-90)" textLength="34" lengthAdjust="spacingAndGlyphs">PROVIDED</text>
<text transform="translate(210,1006) rotate(-90)" textLength="200" lengthAdjust="spacingAndGlyphs">65 SQ. FT. / VENT x ___ 29 ___ VENTS = ___ 18.85</text>
<text transform="translate(219,860) rotate(-90)" textLength="81" lengthAdjust="spacingAndGlyphs">(SQ. FT. OF VENTILATION)</text>
<text transform="translate(235,1012) rotate(-90)" textLength="257" lengthAdjust="spacingAndGlyphs">AN APPROVED VAPOR RETARDER SHALL BE INSTALLED TO COVER</text>
<text transform="translate(242.5,1012) rotate(-90)" textLength="257" lengthAdjust="spacingAndGlyphs">75% OR GREATER OF THE CRAWL SPACE AREA REDUCING VENTS BY</text>
<text transform="translate(250,1012) rotate(-90)" textLength="250" lengthAdjust="spacingAndGlyphs">50%. VENTS SHALL BE SO PLACED AS TO PROVIDE VENTILATION</text>
<text transform="translate(257.5,1012) rotate(-90)" textLength="192" lengthAdjust="spacingAndGlyphs">AT ALL POINTS AND PREVENT DEAD AIR POCKETS.</text>
<text transform="translate(281,1012) rotate(-90)" textLength="22" lengthAdjust="spacingAndGlyphs">NOTE:</text>
<text transform="translate(291,1012) rotate(-90)" textLength="218" lengthAdjust="spacingAndGlyphs">1.  75% COVERAGE OF 6 MIL. VISQUEEN - USE 15 VENTS.</text>
</g>
</svg>
</body></html>
